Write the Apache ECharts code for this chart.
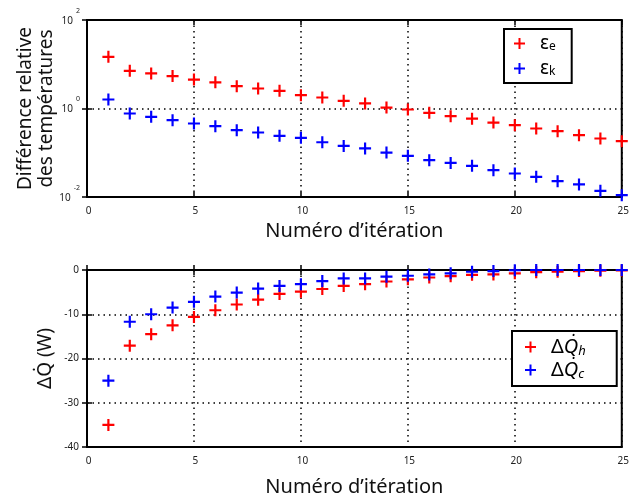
<!DOCTYPE html>
<html><head><meta charset="utf-8">
<script src="https://cdn.jsdelivr.net/npm/echarts@6/dist/echarts.min.js"></script>
<style>html,body{margin:0;padding:0;background:#fff}#c{width:632px;height:499px}</style>
</head><body><div id="c"></div>
<script>
const iterations = [1,2,3,4,5,6,7,8,9,10,11,12,13,14,15,16,17,18,19,20,21,22,23,24,25];
const epsE = [14.7,7.1,6.2,5.4,4.5,3.9,3.2,2.83,2.51,2.0,1.77,1.49,1.30,1.05,0.95,0.80,0.67,0.59,0.48,0.42,0.353,0.307,0.25,0.21,0.183];
const epsK = [1.6,0.77,0.648,0.545,0.458,0.399,0.324,0.287,0.241,0.217,0.173,0.143,0.125,0.101,0.085,0.068,0.059,0.0506,0.0404,0.034,0.0286,0.0228,0.0192,0.0138,0.011];
const dQh = [-35,-17.1,-14.5,-12.5,-10.6,-9.1,-7.8,-6.7,-5.4,-4.9,-4.3,-3.6,-3.2,-2.6,-2.1,-1.7,-1.4,-1.1,-1.0,-0.75,-0.5,-0.4,-0.25,-0.15,-0.1];
const dQc = [-25,-11.7,-10,-8.5,-7.2,-6.0,-5.1,-4.2,-3.6,-3.2,-2.5,-1.9,-1.9,-1.5,-1.3,-1.0,-0.75,-0.4,-0.25,-0.05,0,0,0,0,0];
const xTicks = [0,5,10,15,20,25];

const FONT = 'Noto Sans';
const plus = 'path://M4.5,0H6.5V4.5H11V6.5H6.5V11H4.5V6.5H0V4.5H4.5Z';
const pair = (ys) => iterations.map((x, i) => [x, ys[i]]);
const dotted = { color: '#000', width: 1.5, type: [1.5, 4] };

function xAxisFor(gi, gap) {
  return [{
    type: 'value', gridIndex: gi, min: 0, max: 25, interval: 5, position: 'bottom',
    axisLine: { show: false },
    axisTick: { show: true, inside: true, length: 5, lineStyle: { color: '#000', width: 1.5 } },
    axisLabel: { margin: 9, fontSize: 10, color: '#222', fontFamily: FONT, padding: [0, 0, 0, 3],
      formatter: v => xTicks.includes(v) ? String(v) : '' },
    splitLine: { show: true, lineStyle: dotted },
    name: 'Numéro d’itération', nameLocation: 'middle', nameGap: gap, nameMoveOverlap: false,
    nameTextStyle: { fontSize: 20, color: '#111', fontFamily: FONT }
  }, {
    type: 'value', gridIndex: gi, min: 0, max: 25, interval: 5, position: 'top',
    axisLine: { show: false }, axisLabel: { show: false }, splitLine: { show: false },
    axisTick: { show: true, inside: true, length: 5, lineStyle: { color: '#000', width: 1.5 } }
  }];
}

const option = {
  animation: false,
  backgroundColor: '#fff',
  grid: [
    { left: 87, top: 20, width: 537, height: 177, show: true, borderColor: '#000', borderWidth: 2, backgroundColor: 'transparent' },
    { left: 87, top: 270, width: 537, height: 177, show: true, borderColor: '#000', borderWidth: 2, backgroundColor: 'transparent' }
  ],
  xAxis: [...xAxisFor(0, 24), ...xAxisFor(1, 30)],
  yAxis: [
    {
      type: 'log', logBase: 10, gridIndex: 0, min: 0.01, max: 100, interval: 2,
      axisLine: { show: false },
      axisTick: { show: true, inside: true, length: 5, lineStyle: { color: '#000', width: 1.5 } },
      minorTick: { show: false },
      splitLine: { show: true, lineStyle: dotted },
      axisLabel: {
        margin: 7, fontFamily: FONT, color: '#222', padding: [0, 0, 7, 0],
        formatter: v => '{h| }{b|10}{s|' + Math.round(Math.log10(v)) + '}',
        rich: {
          h: { fontSize: 1, lineHeight: 19 },
          b: { fontSize: 10, lineHeight: 8, verticalAlign: 'bottom', color: '#222', fontFamily: FONT },
          s: { fontSize: 7, lineHeight: 8, verticalAlign: 'top', padding: [0, 0, 0, 3], color: '#222', fontFamily: FONT }
        }
      },
      name: 'Différence relative\ndes températures', nameLocation: 'middle', nameGap: 30, nameRotate: 90,
      nameMoveOverlap: false,
      nameTextStyle: { fontSize: 19, lineHeight: 21, color: '#111', fontFamily: FONT }
    },
    {
      type: 'log', logBase: 10, gridIndex: 0, min: 0.01, max: 100, interval: 2, position: 'right',
      axisLine: { show: false }, axisLabel: { show: false }, splitLine: { show: false },
      axisTick: { show: true, inside: true, length: 5, lineStyle: { color: '#000', width: 1.5 } }
    },
    {
      type: 'value', gridIndex: 1, min: -40, max: 0, interval: 10,
      axisLine: { show: false },
      axisTick: { show: true, inside: true, length: 5, lineStyle: { color: '#000', width: 1.5 } },
      splitLine: { show: true, lineStyle: dotted },
      axisLabel: { margin: 8, fontSize: 10, color: '#222', fontFamily: FONT },
      name: 'ΔQ\u0307 (W)', nameLocation: 'middle', nameGap: 32, nameRotate: 90, nameMoveOverlap: false,
      nameTextStyle: { fontSize: 19, color: '#111', fontFamily: FONT }
    },
    {
      type: 'value', gridIndex: 1, min: -40, max: 0, interval: 10, position: 'right',
      axisLine: { show: false }, axisLabel: { show: false }, splitLine: { show: false },
      axisTick: { show: true, inside: true, length: 5, lineStyle: { color: '#000', width: 1.5 } }
    }
  ],
  legend: [
    {
      data: ['eps_e', 'eps_k'], orient: 'vertical', left: 504, top: 29,
      padding: [5, 16, 5, 10], itemGap: 6, itemWidth: 11, itemHeight: 11,
      borderColor: '#000', borderWidth: 2, backgroundColor: '#fff', icon: plus,
      formatter: n => n === 'eps_e' ? '{g|ε}{sub|e}' : '{g|ε}{sub|k}',
      textStyle: {
        rich: {
          g: { fontSize: 19, lineHeight: 18, color: '#000', fontFamily: FONT, padding: [0, 0, 0, 10] },
          sub: { fontSize: 12, lineHeight: 8, verticalAlign: 'bottom', color: '#000', fontFamily: FONT }
        }
      }
    },
    {
      data: ['dQh', 'dQc'], orient: 'vertical', left: 512, top: 331,
      padding: [6, 31, 5, 13], itemGap: 2, itemWidth: 11, itemHeight: 11,
      borderColor: '#000', borderWidth: 2, backgroundColor: '#fff', icon: plus,
      formatter: n => n === 'dQh' ? '{g|Δ}{q|Q\u0307}{sub|h}' : '{g|Δ}{q|Q\u0307}{sub|c}',
      textStyle: {
        rich: {
          g: { fontSize: 20, lineHeight: 22, color: '#000', fontFamily: FONT, padding: [0, 0, 0, 10] },
          q: { fontSize: 20, lineHeight: 22, fontStyle: 'italic', color: '#000', fontFamily: FONT },
          sub: { fontSize: 13, lineHeight: 9, fontStyle: 'italic', verticalAlign: 'bottom', color: '#000', fontFamily: FONT }
        }
      }
    }
  ],
  series: [
    { name: 'eps_e', type: 'scatter', xAxisIndex: 0, yAxisIndex: 0, symbol: plus, symbolSize: 12, itemStyle: { color: '#ff0000', opacity: 1 }, data: pair(epsE) },
    { name: 'eps_k', type: 'scatter', xAxisIndex: 0, yAxisIndex: 0, symbol: plus, symbolSize: 12, itemStyle: { color: '#0000ff', opacity: 1 }, data: pair(epsK) },
    { name: 'dQh', type: 'scatter', xAxisIndex: 2, yAxisIndex: 2, symbol: plus, symbolSize: 12, itemStyle: { color: '#ff0000', opacity: 1 }, data: pair(dQh) },
    { name: 'dQc', type: 'scatter', xAxisIndex: 2, yAxisIndex: 2, symbol: plus, symbolSize: 12, itemStyle: { color: '#0000ff', opacity: 1 }, data: pair(dQc) }
  ]
};
const chart = echarts.init(document.getElementById('c'));
chart.setOption(option);
</script></body></html>
